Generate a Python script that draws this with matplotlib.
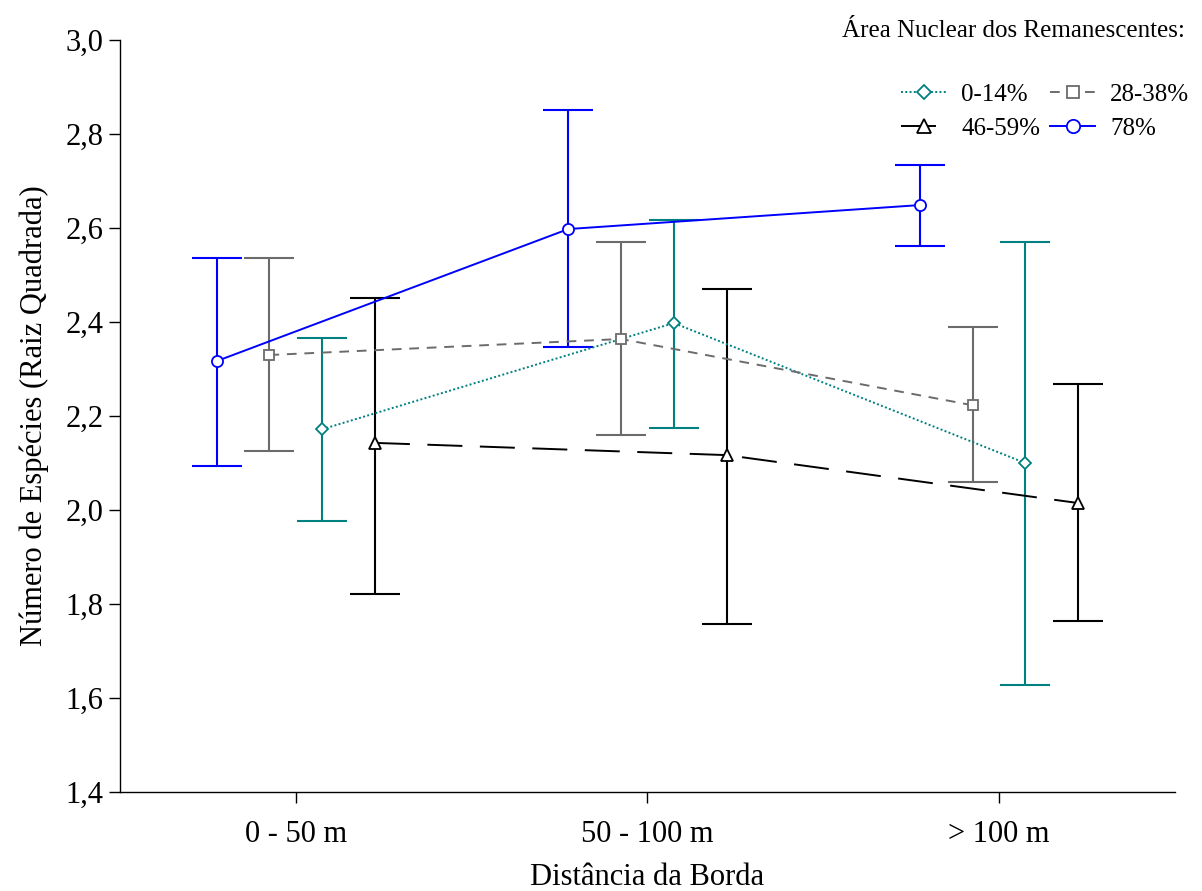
import matplotlib
matplotlib.use("Agg")
import matplotlib.pyplot as plt
import numpy as np

categories = ["0 - 50 m", "50 - 100 m", "> 100 m"]
series = ["0-14%", "28-38%", "46-59%", "78%"]

mean_0_14 = [2.172, 2.398, 2.100]
low_0_14 = [1.977, 2.174, 1.628]
high_0_14 = [2.366, 2.617, 2.570]

mean_28_38 = [2.330, 2.364, 2.223]
low_28_38 = [2.126, 2.160, 2.060]
high_28_38 = [2.536, 2.570, 2.389]

mean_46_59 = [2.143, 2.117, 2.015]
low_46_59 = [1.821, 1.757, 1.764]
high_46_59 = [2.451, 2.470, 2.268]

mean_78 = [2.317, 2.598, 2.649]
low_78 = [2.094, 2.347, 2.562]
high_78 = [2.536, 2.851, 2.734]

yticks = [1.4, 1.6, 1.8, 2.0, 2.2, 2.4, 2.6, 2.8, 3.0]

plt.rcParams['font.family'] = ['Liberation Serif', 'DejaVu Serif']

fig = plt.figure(figsize=(12.02, 8.91), dpi=100)
ax = fig.add_axes([0.0998, 0.111, 0.8777, 0.844])

x = np.arange(len(categories))
styles = [
    dict(name="0-14%", m=mean_0_14, lo=low_0_14, hi=high_0_14, color="#008080",
         marker="D", ms=6, ls=(0, (1, 1.2)), off=0.075),
    dict(name="28-38%", m=mean_28_38, lo=low_28_38, hi=high_28_38, color="#6b6b6b",
         marker="s", ms=7, ls=(0, (5, 4)), off=-0.075),
    dict(name="46-59%", m=mean_46_59, lo=low_46_59, hi=high_46_59, color="#000000",
         marker="^", ms=8, ls=(0, (18, 9)), off=0.225),
    dict(name="78%", m=mean_78, lo=low_78, hi=high_78, color="#0000ff",
         marker="o", ms=8, ls="-", off=-0.225),
]

handles = {}
for s in styles:
    xx = x + s["off"]
    m = np.array(s["m"])
    lo = np.array(s["lo"])
    hi = np.array(s["hi"])
    ax.errorbar(xx, m, yerr=[m - lo, hi - m], fmt="none", ecolor=s["color"],
                elinewidth=1.5, capsize=18, capthick=1.5, zorder=2)
    h, = ax.plot(xx, m, color=s["color"], linestyle=s["ls"], linewidth=1.4,
                 marker=s["marker"], markersize=s["ms"], markerfacecolor="white",
                 markeredgecolor=s["color"], markeredgewidth=1.3, zorder=3)
    handles[s["name"]] = h

ax.set_xlim(-0.5, 2.5)
ax.set_ylim(1.4, 3.0)
ax.set_xticks(x)
ax.set_xticklabels(categories)
ax.set_yticks(yticks)
ax.set_yticklabels([f"{v:.1f}".replace(".", ",") for v in yticks])
ax.tick_params(axis="both", direction="out", length=8, width=1, labelsize=22, pad=4)
ax.tick_params(axis="x", pad=12)
for sp in ["top", "right"]:
    ax.spines[sp].set_visible(False)
for sp in ["left", "bottom"]:
    ax.spines[sp].set_linewidth(1)

ax.set_xlabel("Distância da Borda", fontsize=22, labelpad=10)
ax.set_ylabel("Número de Espécies (Raiz Quadrada)", fontsize=22, labelpad=12)

fig.text(0.986, 0.965, "Área Nuclear dos Remanescentes:", fontsize=18,
         ha="right", va="center")
order = ["0-14%", "46-59%", "28-38%", "78%"]
fig.legend([handles[k] for k in order], order, loc="upper right",
           bbox_to_anchor=(1.004, 0.926), ncol=2, frameon=False, fontsize=18,
           handlelength=1.8, handletextpad=0.6, columnspacing=0.4,
           labelspacing=0.45, borderpad=0.2, markerscale=1.2)

fig.savefig("out.png", dpi=100)
